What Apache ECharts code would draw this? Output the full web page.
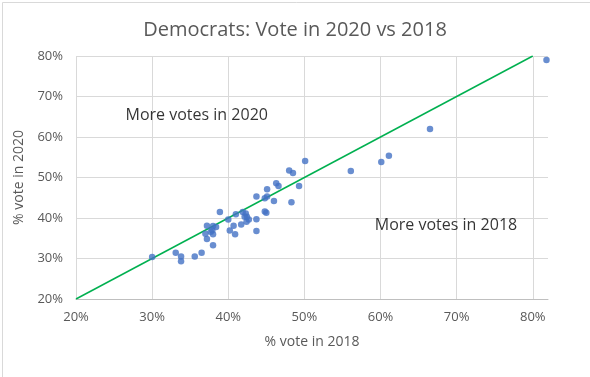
<!DOCTYPE html>
<html>
<head>
<meta charset="utf-8">
<script src="https://cdn.jsdelivr.net/npm/echarts@6/dist/echarts.min.js"></script>
<style>
  html, body { margin: 0; padding: 0; background: #fff; }
  #chart { width: 590px; height: 377px; }
</style>
</head>
<body>
<div id="chart"></div>
<script>
// % vote in 2018 vs % vote in 2020 (Democrats)
var vote2018 = [0.300, 0.331, 0.338, 0.338, 0.356, 0.365, 0.372, 0.380, 0.384, 0.379,
  0.370, 0.380, 0.372, 0.380, 0.377, 0.389, 0.400, 0.402, 0.407, 0.409,
  0.410, 0.417, 0.419, 0.423, 0.4245, 0.4215, 0.427, 0.424, 0.437, 0.437,
  0.437, 0.448, 0.451, 0.451, 0.448, 0.450, 0.460, 0.463, 0.466, 0.480,
  0.485, 0.483, 0.493, 0.501, 0.561, 0.601, 0.611, 0.665, 0.818];
var vote2020 = [0.304, 0.314, 0.305, 0.293, 0.305, 0.314, 0.381, 0.380, 0.378, 0.370,
  0.361, 0.360, 0.348, 0.333, 0.366, 0.415, 0.396, 0.369, 0.381, 0.360,
  0.409, 0.384, 0.415, 0.411, 0.403, 0.403, 0.3965, 0.391, 0.397, 0.368,
  0.453, 0.449, 0.453, 0.471, 0.416, 0.413, 0.442, 0.486, 0.479, 0.517,
  0.511, 0.439, 0.479, 0.541, 0.516, 0.538, 0.554, 0.620, 0.790];
var equalLine = [[0.2, 0.2], [0.8, 0.8]];
var notes = [
  { text: 'More votes in 2020', at: [0.3586, 0.6536] },
  { text: 'More votes in 2018', at: [0.686, 0.3806] }
];

var points = vote2018.map(function (x, i) { return [x, vote2020[i]]; });
var pct = function (v) {
  var r = Math.round(v * 100);
  return Math.abs(v * 100 - r) < 1e-6 && r % 10 === 0 ? r + '%' : '';
};
var font = 'Open Sans';
var grey = '#595959';

var chart = echarts.init(document.getElementById('chart'), null, { renderer: 'canvas' });
chart.setOption({
  animation: false,
  backgroundColor: '#fff',
  title: {
    text: 'Democrats: Vote in 2020 vs 2018',
    left: 'center', top: 15,
    textStyle: { fontFamily: font, fontSize: 20, fontWeight: 'normal', color: grey }
  },
  graphic: [{
    type: 'rect', left: 0, top: 0,
    shape: { width: 589, height: 376 },
    style: { fill: 'none', stroke: '#d9d9d9', lineWidth: 1 }
  }],
  grid: { left: 76, right: 42, top: 56, bottom: 78 },
  xAxis: {
    type: 'value', min: 0.2, max: 0.82, interval: 0.1,
    name: '% vote in 2018', nameLocation: 'middle', nameGap: 36,
    nameTextStyle: { fontFamily: font, fontSize: 14, color: grey },
    axisLine: { show: true, lineStyle: { color: '#bfbfbf' } },
    axisTick: { show: false },
    axisLabel: { formatter: pct, fontFamily: font, fontSize: 13, color: grey, margin: 12 },
    splitLine: { show: true, showMaxLine: false, lineStyle: { color: '#d9d9d9' } }
  },
  yAxis: {
    type: 'value', min: 0.2, max: 0.8, interval: 0.1,
    name: '% vote in 2020', nameLocation: 'middle', nameGap: 50,
    nameTextStyle: { fontFamily: font, fontSize: 14, color: grey },
    axisLine: { show: false },
    axisTick: { show: false },
    axisLabel: { formatter: pct, fontFamily: font, fontSize: 13, color: grey, margin: 13 },
    splitLine: { show: true, lineStyle: { color: '#d9d9d9' } }
  },
  series: [
    {
      type: 'line', data: equalLine, symbol: 'none', silent: true,
      lineStyle: { color: '#00b050', width: 1.5 }, z: 2
    },
    {
      type: 'scatter', data: points, symbolSize: 6.5,
      itemStyle: { color: '#4472c4' }, z: 3
    },
    {
      type: 'scatter', symbolSize: 0, silent: true, z: 4,
      data: notes.map(function (n) { return { value: n.at, name: n.text }; }),
      label: {
        show: true, position: 'inside', formatter: '{b}',
        fontFamily: font, fontSize: 16, color: '#000'
      }
    }
  ]
});
</script>
</body>
</html>
